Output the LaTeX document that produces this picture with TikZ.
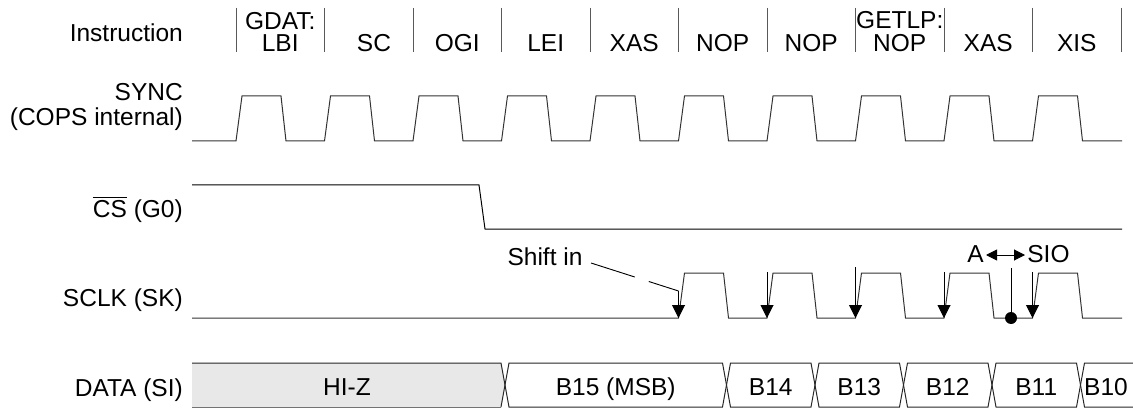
\documentclass[tikz,border=0pt]{standalone}
\usepackage{fontspec}
\setmainfont{Liberation Sans}
\usetikzlibrary{arrows.meta,calc}
\newcommand\ovlbar[1]{\setbox0\hbox{#1}\rlap{\rule[\dimexpr\ht0+2.5pt\relax]{\wd0}{1pt}}#1}
\begin{document}
\begin{tikzpicture}[x=1pt,y=-1pt,
  txt/.style={font=\fontsize{24.5}{21}\selectfont, inner sep=0pt},
  lbl/.style={txt, anchor=base east},
  ins/.style={txt, anchor=base},
  wave/.style={line width=1pt, black!80, line join=miter},
  sepline/.style={line width=1pt, black!65},
  busline/.style={line width=1pt, black!85},
  clkarrow/.style={line width=1pt, -{Triangle[length=13pt,width=13pt]}},
  lead/.style={line width=0.9pt}]
\useasboundingbox (0,0) rectangle (1133,409);

% left labels
\node[lbl] (linstr) at (183,42) {Instruction};
\node[lbl] (lsync) at (183,101) {SYNC};
\node[lbl] (lsync2) at (183,126) {(COPS internal)};
\node[lbl] (lcs) at (183,218) {\ovlbar{CS} (G0)};
\node[lbl] (lsclk) at (183,306) {SCLK (SK)};
\node[lbl] (ldata) at (183,396) {DATA (SI)};

% instruction separators
\foreach \i in {0,...,10}{
  \draw[sepline] ({236+88.5*\i},8) -- ({236+88.5*\i},52);
}
% instruction labels
\node[ins] (i0a) at (280.25,30) {GDAT:};
\node[ins] (i0b) at (280.25,52) {LBI};
\node[ins] (i1) at (374,52) {SC};
\node[ins] (i2) at (457.25,52) {OGI};
\node[ins] (i3) at (545.75,52) {LEI};
\node[ins] (i4) at (634.25,52) {XAS};
\node[ins] (i5) at (722.75,52) {NOP};
\node[ins] (i6) at (811.25,52) {NOP};
\node[ins] (i7a) at (899.75,29) {GETLP:};
\node[ins] (i7b) at (899.75,52) {NOP};
\node[ins] (i8) at (988.25,52) {XAS};
\node[ins] (i9) at (1076.75,52) {XIS};

% SYNC
\draw[wave] (192,141)
  \foreach \i in {0,...,9}{
    -- ({236+88.5*\i},141) -- ({242+88.5*\i},96) -- ({281+88.5*\i},96) -- ({286+88.5*\i},141)
  } -- (1122,141);

% CS
\draw[wave, black] (192,185) -- (479,185) -- (485,229) -- (1122,229);

% SCLK
\draw[wave] (192,318)
  \foreach \i in {5,...,9}{
    -- ({236+88.5*\i},318) -- ({242+88.5*\i},273) -- ({281+88.5*\i},273) -- ({286+88.5*\i},318)
  } -- (1122,318);

% shift-in label and leader
\node[ins] (shift) at (545,265) {Shift in};
\coordinate (s1) at (591,263);
\coordinate (s2) at (678.5,291);
\coordinate (e5) at (678.5,318);
\draw[lead] (s1) -- ($(s1)!0.5!(s2)$);
\draw[lead] ($(s1)!0.66!(s2)$) -- (s2);
\draw[clkarrow] (s2) -- (e5);

% other clock arrows
\coordinate (a6) at (767,272);   \coordinate (e6) at (767,318);
\coordinate (a7) at (855.5,267); \coordinate (e7) at (855.5,318);
\coordinate (a8) at (944,272);   \coordinate (e8) at (944,318);
\coordinate (a9) at (1032.5,272);\coordinate (e9) at (1032.5,318);
\draw[clkarrow] (a6) -- (e6);
\draw[clkarrow] (a7) -- (e7);
\draw[clkarrow] (a8) -- (e8);
\draw[clkarrow] (a9) -- (e9);

% A <-> SIO
\node[ins] (la) at (975.5,262) {A};
\node[ins] (lsio) at (1048.5,262) {SIO};
\coordinate (d1) at (986,255);
\coordinate (d2) at (1025,255);
\draw[line width=1pt, {Triangle[length=11pt,width=11pt]}-{Triangle[length=11pt,width=11pt]}] (d1) -- (d2);
\coordinate (dt) at (1011,268);
\node[circle, fill=black, inner sep=0pt, minimum size=12pt] (dot) at (1011,318) {};
\draw[line width=1pt] (dt) -- (dot.center);

% DATA bus
\fill[black!9] (192,363) -- (501,363) -- (505,385) -- (501,407) -- (192,407) -- cycle;
\draw[busline] (192,363) -- (501,363) -- (505,385) -- (501,407);
\draw[busline, black!55] (192,407) -- (501,407);
\foreach \a/\b in {505/726.5, 726.5/815, 815/903.5, 903.5/992, 992/1080.5}{
  \draw[busline] ({\a+4},363) -- ({\b-4},363) -- (\b,385) -- ({\b-4},407) -- ({\a+4},407) -- (\a,385) -- cycle;
}
\draw[busline] (1133,363) -- (1084.5,363) -- (1080.5,385) -- (1084.5,407) -- (1133,407);

\node[ins] (hiz) at (347,395) {HI-Z};
\node[ins] (b15) at (615.75,395) {B15 (MSB)};
\node[ins] (b14) at (770.75,395) {B14};
\node[ins] (b13) at (859.25,395) {B13};
\node[ins] (b12) at (947.75,395) {B12};
\node[ins] (b11) at (1036.25,395) {B11};
\node[ins, anchor=base west] (b10) at (1084,395) {B10};
\end{tikzpicture}
\end{document}
